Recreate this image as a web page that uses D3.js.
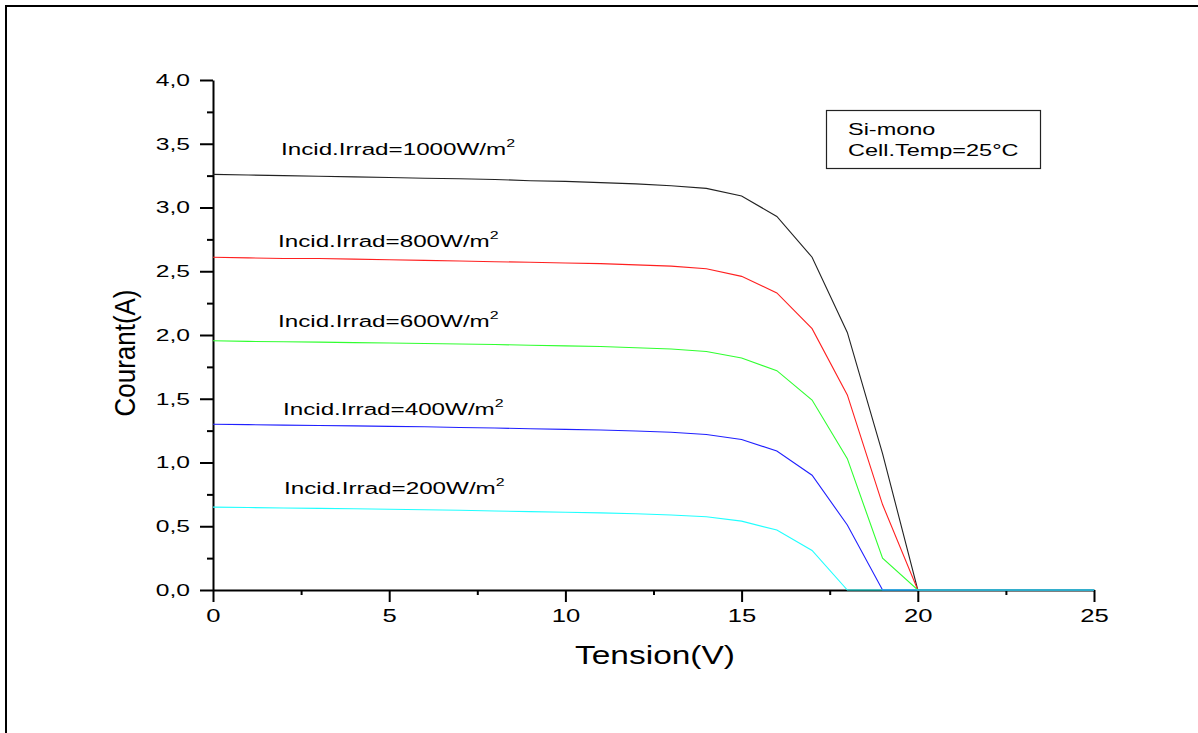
<!DOCTYPE html>
<html>
<head>
<meta charset="utf-8">
<script src="https://cdn.jsdelivr.net/npm/d3@7"></script>
<style>
  html, body { margin: 0; padding: 0; background: #fff; }
  svg { display: block; font-family: Arial, "Liberation Sans", sans-serif; }
</style>
</head>
<body>
<div id="chart"></div>
<script>
// ---------------------------- DATA ----------------------------- //
const tension = d3.range(0, 26); // 0..25 V

const irr1000 = [3.26, 3.255, 3.25, 3.245, 3.24, 3.235, 3.23, 3.225, 3.22, 3.21, 3.205, 3.195, 3.185, 3.17, 3.15,
  3.09, 2.93, 2.61, 2.02, 1.07, 0, 0, 0, 0, 0, 0];
const irr800 = [2.61, 2.605, 2.60, 2.60, 2.595, 2.59, 2.585, 2.58, 2.575, 2.57, 2.565, 2.56, 2.55, 2.54, 2.52,
  2.46, 2.33, 2.05, 1.53, 0.67, 0, 0, 0, 0, 0, 0];
const irr600 = [1.955, 1.95, 1.947, 1.944, 1.94, 1.937, 1.933, 1.93, 1.925, 1.92, 1.915, 1.91, 1.90, 1.89, 1.87,
  1.82, 1.72, 1.49, 1.03, 0.25, 0, 0, 0, 0, 0, 0];
const irr400 = [1.30, 1.297, 1.293, 1.29, 1.287, 1.283, 1.28, 1.275, 1.27, 1.265, 1.26, 1.255, 1.247, 1.237, 1.22,
  1.18, 1.09, 0.90, 0.51, 0, 0, 0, 0, 0, 0, 0];
const irr200 = [0.65, 0.647, 0.643, 0.64, 0.637, 0.633, 0.63, 0.625, 0.62, 0.615, 0.61, 0.605, 0.598, 0.588, 0.575,
  0.54, 0.47, 0.31, 0, 0, 0, 0, 0, 0, 0, 0];

const seriesLabels = ['1000', '800', '600', '400', '200'];
const seriesColors = ['#222', '#ff2020', '#30ff30', '#2020ff', '#20ffff'];

const xMajor = [0, 5, 10, 15, 20, 25];
const xMinor = [2.5, 7.5, 12.5, 17.5, 22.5];
const yMajor = [0, 0.5, 1, 1.5, 2, 2.5, 3, 3.5, 4];
const yMinor = [0.25, 0.75, 1.25, 1.75, 2.25, 2.75, 3.25, 3.75];

const legendLines = ['Si-mono', 'Cell.Temp=25°C'];

// --------------------------- LAYOUT ---------------------------- //
const width = 1198;
const height = 733;
const plot = { left: 213, right: 1094, top: 80, bottom: 590 };
const sx = 1.45; // the source picture is stretched sideways

const svg = d3.select('#chart').append('svg')
  .attr('width', width)
  .attr('height', height);

// outer frame (top and left edges only are visible)
svg.append('path')
  .attr('d', `M6,${height} L6,6 L${width},6`)
  .attr('fill', 'none')
  .attr('stroke', '#000')
  .attr('stroke-width', 2);

// ---------------------------- SCALES --------------------------- //
const xScale = d3.scaleLinear().domain([0, 25]).range([plot.left, plot.right]);
const yScale = d3.scaleLinear().domain([0, 4]).range([plot.bottom, plot.top]);

const commaFmt = d => d3.format('.1f')(d).replace('.', ',');

// small helper: text stretched horizontally like the source
const addText = (parent, x, y, txt, size, scale, anchor = 'start') => parent.append('text')
  .attr('transform', `translate(${x},${y}) scale(${scale},1)`)
  .attr('text-anchor', anchor)
  .attr('font-size', size)
  .attr('fill', '#000')
  .text(txt);

// ----------------------------- AXES ---------------------------- //
const xAxis = svg.append('g')
  .attr('transform', `translate(0,${plot.bottom})`)
  .call(d3.axisBottom(xScale).tickValues(xMajor).tickSize(12).tickSizeOuter(0).tickFormat(d3.format('d')));
xAxis.append('g')
  .call(d3.axisBottom(xScale).tickValues(xMinor).tickSize(5).tickSizeOuter(0).tickFormat(''))
  .select('.domain').remove();

const yAxis = svg.append('g')
  .attr('transform', `translate(${plot.left},0)`)
  .call(d3.axisLeft(yScale).tickValues(yMajor).tickSize(13).tickSizeOuter(0).tickFormat(commaFmt));
yAxis.append('g')
  .call(d3.axisLeft(yScale).tickValues(yMinor).tickSize(6).tickSizeOuter(0).tickFormat(''))
  .select('.domain').remove();

svg.selectAll('.domain, .tick line')
  .attr('stroke', '#000')
  .attr('stroke-width', 2);

xAxis.selectAll('.tick text')
  .attr('font-family', 'Arial, "Liberation Sans", sans-serif')
  .attr('font-size', 19)
  .attr('fill', '#000')
  .attr('y', 19)
  .attr('transform', 'scale(1.35,1)');

yAxis.selectAll('.tick text')
  .attr('font-family', 'Arial, "Liberation Sans", sans-serif')
  .attr('font-size', 17)
  .attr('fill', '#000')
  .attr('x', -23 / sx)
  .attr('transform', `scale(${sx},1)`);

// axis titles
svg.append('text')
  .attr('x', 655)
  .attr('y', 664)
  .attr('text-anchor', 'middle')
  .attr('font-size', 26)
  .attr('textLength', 160)
  .attr('lengthAdjust', 'spacingAndGlyphs')
  .text('Tension(V)');

svg.append('text')
  .attr('transform', 'translate(135,353) rotate(-90)')
  .attr('text-anchor', 'middle')
  .attr('font-size', 29)
  .attr('textLength', 127)
  .attr('lengthAdjust', 'spacingAndGlyphs')
  .text('Courant(A)');

// ----------------------------- LINES --------------------------- //
const allSeries = [irr1000, irr800, irr600, irr400, irr200];

const line = d3.line()
  .x((d, i) => xScale(tension[i]))
  .y(d => yScale(d));

svg.append('g')
  .selectAll('path')
  .data(allSeries)
  .join('path')
  .attr('d', d => line(d))
  .attr('fill', 'none')
  .attr('stroke', (d, i) => seriesColors[i])
  .attr('stroke-width', 1.1);

// ------------------------- ANNOTATIONS ------------------------- //
const labelPos = [[281, 155], [278, 247], [278, 327], [283, 415], [284, 494]];
const labels = svg.append('g');
seriesLabels.forEach((s, i) => {
  const t = addText(labels, labelPos[i][0], labelPos[i][1], `Incid.Irrad=${s}W/m`, 16.7, sx);
  t.append('tspan')
    .attr('font-size', 11)
    .attr('dy', -8)
    .text('2');
});

// ----------------------------- LEGEND -------------------------- //
svg.append('rect')
  .attr('x', 826.5)
  .attr('y', 110.5)
  .attr('width', 214)
  .attr('height', 58)
  .attr('fill', '#fff')
  .attr('stroke', '#222')
  .attr('stroke-width', 1.2);

legendLines.forEach((s, i) => {
  addText(svg, 848, 135 + i * 21, s, 16.2, sx);
});
</script>
</body>
</html>
